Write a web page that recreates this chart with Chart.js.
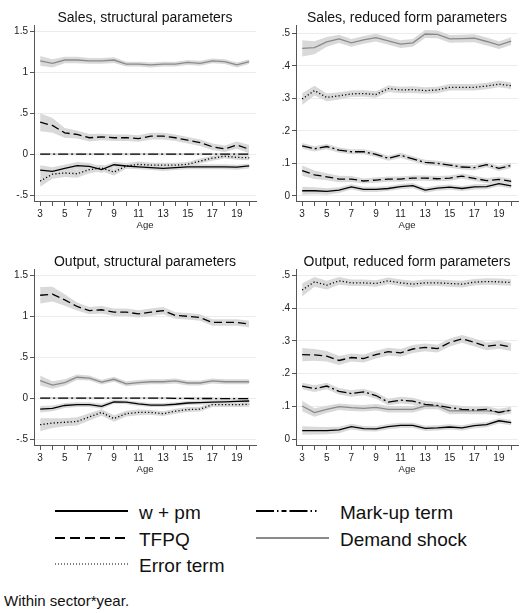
<!DOCTYPE html>
<html lang="en">

<head>
    <meta charset="UTF-8">
    <title>Decomposition by age</title>
    <style>
        body {
            margin: 0;
            background: #fff;
            font-family: "Liberation Sans", Arial, sans-serif;
            color: #111;
        }

        .page {
            position: relative;
            width: 523px;
            height: 613px;
            overflow: hidden;
        }

        .panel {
            position: absolute;
        }

        .key {
            position: absolute;
        }

        .key-text {
            position: absolute;
            font-size: 19px;
            line-height: 20px;
            white-space: nowrap;
        }

        .note {
            position: absolute;
            left: 4px;
            top: 592px;
            font-size: 15px;
            line-height: 18px;
        }
    </style>
</head>

<body>
    <div class="page">
        <canvas class="panel" id="salesStruct" width="261" height="235" style="left:0;top:0"></canvas>
        <canvas class="panel" id="salesReduced" width="261" height="235" style="left:262px;top:0"></canvas>
        <canvas class="panel" id="outputStruct" width="261" height="235" style="left:0;top:244px"></canvas>
        <canvas class="panel" id="outputReduced" width="261" height="235" style="left:262px;top:244px"></canvas>

        <!-- legend -->
        <svg class="key" width="73" height="6" style="left:55px;top:508px">
            <line x1="0" y1="3" x2="73" y2="3" stroke="#000" stroke-width="2" />
        </svg>
        <div class="key-text" style="left:139px;top:503px">w + pm</div>
        <svg class="key" width="73" height="6" style="left:55px;top:535px">
            <line x1="0" y1="3" x2="73" y2="3" stroke="#000" stroke-width="2" stroke-dasharray="10 5" />
        </svg>
        <div class="key-text" style="left:139px;top:530px">TFPQ</div>
        <svg class="key" width="73" height="6" style="left:55px;top:561px">
            <line x1="0" y1="3" x2="73" y2="3" stroke="#000" stroke-width="1.2" stroke-dasharray="1 2" />
        </svg>
        <div class="key-text" style="left:139px;top:556px">Error term</div>
        <svg class="key" width="73" height="6" style="left:256px;top:508px">
            <line x1="0" y1="3" x2="73" y2="3" stroke="#000" stroke-width="2" stroke-dasharray="18 3 1.5 3 5 3 18 3 1.5 3 1.5 20" />
        </svg>
        <div class="key-text" style="left:340px;top:503px">Mark-up term</div>
        <svg class="key" width="73" height="6" style="left:256px;top:535px">
            <line x1="0" y1="3" x2="73" y2="3" stroke="#8a8a8a" stroke-width="2" />
        </svg>
        <div class="key-text" style="left:340px;top:530px">Demand shock</div>

        <div class="note">Within sector*year.</div>
    </div>

    <script src="https://cdn.jsdelivr.net/npm/chart.js"></script>
    <script>
        // ages on the x axis, odd ones get a label
        const ages = [3, 4, 5, 6, 7, 8, 9, 10, 11, 12, 13, 14, 15, 16, 17, 18, 19, 20];
        const xLabelAges = [3, 5, 7, 9, 11, 13, 15, 17, 19];

        const structTicks = [-0.5, 0, 0.5, 1, 1.5];
        const structTickLabels = ['-.5', '0', '.5', '1', '1.5'];
        const reducedTicks = [0, 0.1, 0.2, 0.3, 0.4, 0.5];
        const reducedTickLabels = ['0', '.1', '.2', '.3', '.4', '.5'];

        // Sales, structural parameters (estimate + half width of the band)
        const salesStructWpm = [-0.195, -0.21, -0.175, -0.14, -0.15, -0.19, -0.13, -0.145, -0.155, -0.165, -0.175, -0.165, -0.155, -0.155, -0.155, -0.155, -0.16, -0.145];
        const salesStructWpmCi = [0.06, 0.05, 0.045, 0.045, 0.04, 0.04, 0.035, 0.035, 0.03, 0.03, 0.03, 0.03, 0.03, 0.03, 0.03, 0.03, 0.03, 0.03];
        const salesStructTfpq = [0.39, 0.35, 0.26, 0.24, 0.20, 0.21, 0.20, 0.20, 0.19, 0.22, 0.22, 0.20, 0.17, 0.14, 0.09, 0.065, 0.11, 0.06];
        const salesStructTfpqCi = [0.11, 0.09, 0.06, 0.05, 0.045, 0.04, 0.04, 0.04, 0.04, 0.04, 0.04, 0.04, 0.04, 0.04, 0.04, 0.04, 0.045, 0.05];
        const salesStructError = [-0.33, -0.245, -0.23, -0.24, -0.19, -0.17, -0.22, -0.145, -0.125, -0.135, -0.135, -0.135, -0.125, -0.085, -0.05, -0.025, -0.04, -0.045];
        const salesStructErrorCi = [0.07, 0.055, 0.05, 0.05, 0.045, 0.04, 0.04, 0.035, 0.035, 0.03, 0.03, 0.03, 0.03, 0.03, 0.03, 0.03, 0.03, 0.03];
        const salesStructMarkup = [0, 0, 0, 0, 0, 0, 0, 0, 0, 0, 0, 0, 0, 0, 0, 0, 0, 0];
        const salesStructMarkupCi = [0.015, 0.015, 0.015, 0.015, 0.015, 0.015, 0.015, 0.015, 0.015, 0.015, 0.015, 0.015, 0.015, 0.015, 0.015, 0.015, 0.015, 0.015];
        const salesStructDemand = [1.14, 1.11, 1.15, 1.15, 1.14, 1.14, 1.15, 1.10, 1.10, 1.09, 1.10, 1.10, 1.12, 1.11, 1.14, 1.13, 1.09, 1.13];
        const salesStructDemandCi = [0.06, 0.05, 0.04, 0.04, 0.035, 0.035, 0.035, 0.03, 0.03, 0.03, 0.03, 0.03, 0.03, 0.03, 0.03, 0.03, 0.03, 0.03];

        // Sales, reduced form parameters
        const salesReducedWpm = [0.016, 0.016, 0.014, 0.018, 0.028, 0.02, 0.02, 0.023, 0.029, 0.032, 0.018, 0.024, 0.027, 0.023, 0.028, 0.029, 0.038, 0.031];
        const salesReducedWpmCi = [0.012, 0.011, 0.01, 0.009, 0.008, 0.008, 0.008, 0.008, 0.008, 0.008, 0.008, 0.008, 0.008, 0.008, 0.008, 0.008, 0.008, 0.008];
        const salesReducedTfpq = [0.078, 0.065, 0.059, 0.052, 0.052, 0.046, 0.049, 0.052, 0.052, 0.055, 0.055, 0.053, 0.055, 0.061, 0.054, 0.047, 0.051, 0.045];
        const salesReducedTfpqCi = [0.016, 0.013, 0.011, 0.01, 0.009, 0.008, 0.008, 0.008, 0.008, 0.008, 0.008, 0.008, 0.008, 0.008, 0.008, 0.008, 0.008, 0.008];
        const salesReducedError = [0.298, 0.324, 0.303, 0.308, 0.314, 0.315, 0.312, 0.33, 0.326, 0.327, 0.324, 0.326, 0.334, 0.334, 0.334, 0.338, 0.344, 0.339];
        const salesReducedErrorCi = [0.018, 0.015, 0.012, 0.011, 0.01, 0.01, 0.01, 0.01, 0.01, 0.01, 0.01, 0.01, 0.01, 0.01, 0.01, 0.01, 0.01, 0.01];
        const salesReducedMarkup = [0.154, 0.145, 0.152, 0.141, 0.136, 0.136, 0.128, 0.116, 0.125, 0.114, 0.103, 0.10, 0.095, 0.089, 0.087, 0.096, 0.085, 0.094];
        const salesReducedMarkupCi = [0.009, 0.008, 0.008, 0.008, 0.008, 0.008, 0.008, 0.008, 0.008, 0.008, 0.008, 0.008, 0.008, 0.008, 0.008, 0.008, 0.008, 0.008];
        const salesReducedDemand = [0.454, 0.456, 0.474, 0.483, 0.471, 0.48, 0.487, 0.477, 0.467, 0.471, 0.498, 0.497, 0.483, 0.484, 0.485, 0.475, 0.464, 0.476];
        const salesReducedDemandCi = [0.025, 0.02, 0.015, 0.013, 0.012, 0.012, 0.012, 0.012, 0.012, 0.012, 0.012, 0.012, 0.012, 0.012, 0.012, 0.012, 0.012, 0.012];

        // Output, structural parameters
        const outputStructWpm = [-0.135, -0.125, -0.09, -0.08, -0.08, -0.10, -0.045, -0.05, -0.07, -0.085, -0.085, -0.075, -0.06, -0.055, -0.05, -0.045, -0.04, -0.035];
        const outputStructWpmCi = [0.04, 0.035, 0.03, 0.03, 0.03, 0.03, 0.025, 0.025, 0.025, 0.025, 0.025, 0.025, 0.025, 0.025, 0.025, 0.025, 0.025, 0.025];
        const outputStructTfpq = [1.257, 1.27, 1.20, 1.12, 1.07, 1.08, 1.05, 1.05, 1.03, 1.05, 1.07, 1.01, 1.00, 0.985, 0.925, 0.925, 0.925, 0.905];
        const outputStructTfpqCi = [0.1, 0.09, 0.07, 0.05, 0.045, 0.045, 0.045, 0.045, 0.045, 0.045, 0.045, 0.04, 0.04, 0.04, 0.04, 0.04, 0.04, 0.04];
        const outputStructError = [-0.325, -0.305, -0.295, -0.285, -0.23, -0.175, -0.25, -0.19, -0.175, -0.175, -0.19, -0.16, -0.14, -0.135, -0.08, -0.08, -0.08, -0.075];
        const outputStructErrorCi = [0.08, 0.06, 0.05, 0.05, 0.045, 0.04, 0.04, 0.035, 0.035, 0.03, 0.03, 0.03, 0.03, 0.03, 0.03, 0.03, 0.03, 0.03];
        const outputStructMarkup = [0, 0, 0, 0, 0, 0, 0, 0, 0, 0, 0, -0.003, -0.004, -0.005, -0.005, -0.006, -0.006, -0.006];
        const outputStructMarkupCi = [0.015, 0.015, 0.015, 0.015, 0.015, 0.015, 0.015, 0.015, 0.015, 0.015, 0.015, 0.015, 0.015, 0.015, 0.015, 0.015, 0.015, 0.015];
        const outputStructDemand = [0.215, 0.16, 0.19, 0.255, 0.245, 0.195, 0.23, 0.175, 0.19, 0.20, 0.20, 0.21, 0.185, 0.185, 0.21, 0.20, 0.20, 0.20];
        const outputStructDemandCi = [0.06, 0.045, 0.04, 0.035, 0.03, 0.03, 0.03, 0.03, 0.03, 0.03, 0.03, 0.03, 0.03, 0.03, 0.03, 0.03, 0.03, 0.03];

        // Output, reduced form parameters
        const outputReducedWpm = [0.026, 0.026, 0.026, 0.028, 0.038, 0.032, 0.031, 0.038, 0.042, 0.042, 0.033, 0.034, 0.037, 0.034, 0.041, 0.044, 0.056, 0.05];
        const outputReducedWpmCi = [0.013, 0.012, 0.011, 0.01, 0.009, 0.008, 0.008, 0.008, 0.008, 0.008, 0.008, 0.008, 0.008, 0.008, 0.008, 0.008, 0.008, 0.008];
        const outputReducedTfpq = [0.258, 0.257, 0.253, 0.24, 0.249, 0.246, 0.258, 0.267, 0.263, 0.275, 0.28, 0.276, 0.295, 0.306, 0.295, 0.283, 0.288, 0.281];
        const outputReducedTfpqCi = [0.02, 0.018, 0.016, 0.014, 0.012, 0.012, 0.012, 0.012, 0.012, 0.012, 0.012, 0.012, 0.012, 0.012, 0.012, 0.012, 0.012, 0.012];
        const outputReducedError = [0.455, 0.48, 0.47, 0.483, 0.477, 0.477, 0.475, 0.483, 0.477, 0.473, 0.477, 0.477, 0.475, 0.473, 0.479, 0.481, 0.48, 0.478];
        const outputReducedErrorCi = [0.02, 0.015, 0.013, 0.012, 0.01, 0.01, 0.01, 0.01, 0.01, 0.01, 0.01, 0.01, 0.01, 0.01, 0.01, 0.01, 0.01, 0.01];
        const outputReducedMarkup = [0.162, 0.154, 0.162, 0.146, 0.139, 0.144, 0.133, 0.113, 0.119, 0.116, 0.106, 0.103, 0.096, 0.091, 0.089, 0.091, 0.081, 0.089];
        const outputReducedMarkupCi = [0.01, 0.01, 0.01, 0.01, 0.01, 0.01, 0.01, 0.01, 0.01, 0.01, 0.01, 0.01, 0.01, 0.01, 0.01, 0.01, 0.01, 0.01];
        const outputReducedDemand = [0.101, 0.081, 0.091, 0.099, 0.096, 0.094, 0.097, 0.091, 0.091, 0.091, 0.101, 0.101, 0.086, 0.087, 0.086, 0.086, 0.083, 0.088];
        const outputReducedDemandCi = [0.016, 0.013, 0.011, 0.01, 0.01, 0.01, 0.01, 0.01, 0.01, 0.01, 0.01, 0.01, 0.01, 0.01, 0.01, 0.01, 0.01, 0.01];

        // one look per term, same order as the arrays passed to makePanel
        const lineStyles = [
            { color: '#000', dash: [], width: 1.3 },          // w + pm
            { color: '#000', dash: [8, 4], width: 1.3 },      // TFPQ
            { color: '#000', dash: [1.2, 2.2], width: 1.3 },  // Error term
            { color: '#000', dash: [10, 3, 2, 3], width: 1.3 }, // Mark-up term
            { color: '#8a8a8a', dash: [], width: 1.3 }        // Demand shock
        ];
        const bandColor = '#d9d9d9';
        const font = '"Liberation Sans", Arial, sans-serif';

        function points(values) {
            return ages.map((a, i) => ({ x: a, y: values[i] }));
        }

        function makePanel(id, title, estimates, halfWidths, yMin, yMax, yTicks, yTickLabels) {
            const datasets = [];

            // grey bands first, under every line
            estimates.forEach((est, k) => {
                const ci = halfWidths[k];
                datasets.push({
                    data: points(est.map((v, i) => v - ci[i])),
                    borderWidth: 0, pointRadius: 0, fill: false, order: 1
                });
                datasets.push({
                    data: points(est.map((v, i) => v + ci[i])),
                    borderWidth: 0, pointRadius: 0, fill: '-1',
                    backgroundColor: bandColor, order: 1
                });
            });

            estimates.forEach((est, k) => {
                const st = lineStyles[k];
                datasets.push({
                    data: points(est),
                    borderColor: st.color,
                    borderWidth: st.width,
                    borderDash: st.dash,
                    pointRadius: 0,
                    fill: false,
                    tension: 0,
                    order: 0
                });
            });

            new Chart(document.getElementById(id), {
                type: 'line',
                data: { datasets: datasets },
                options: {
                    responsive: false,
                    animation: false,
                    events: [],
                    layout: { padding: { left: 0, right: 5, top: 0, bottom: 0 } },
                    plugins: {
                        legend: { display: false },
                        tooltip: { enabled: false },
                        title: {
                            display: true,
                            text: title,
                            fullSize: false,
                            color: '#111',
                            font: { family: font, size: 14, weight: 'normal', lineHeight: 1.1 },
                            padding: { top: 10, bottom: 0 }
                        }
                    },
                    scales: {
                        x: {
                            type: 'linear',
                            min: 2.5,
                            max: 20.55,
                            afterBuildTicks: axis => { axis.ticks = ages.map(a => ({ value: a })); },
                            afterFit: axis => { axis.height = 34; },
                            border: { display: true, color: '#555', width: 1 },
                            grid: { drawOnChartArea: false, drawTicks: true, tickLength: 5, tickColor: '#555' },
                            ticks: {
                                autoSkip: false,
                                maxRotation: 0,
                                padding: 2,
                                color: '#222',
                                font: { family: font, size: 10 },
                                callback: v => xLabelAges.includes(v) ? String(v) : ''
                            },
                            title: {
                                display: true,
                                text: 'Age',
                                color: '#222',
                                font: { family: font, size: 9.5 },
                                padding: { top: 0, bottom: 4 }
                            }
                        },
                        y: {
                            min: yMin,
                            max: yMax,
                            afterBuildTicks: axis => { axis.ticks = yTicks.map(v => ({ value: v })); },
                            afterFit: axis => { axis.width = 34; },
                            border: { display: true, color: '#555', width: 1 },
                            grid: { color: '#ececec', lineWidth: 1, drawTicks: true, tickLength: 4, tickColor: '#555' },
                            ticks: {
                                padding: 2,
                                color: '#222',
                                font: { family: font, size: 10 },
                                callback: (v, i) => yTickLabels[i]
                            }
                        }
                    }
                }
            });
        }

        makePanel('salesStruct', 'Sales, structural parameters',
            [salesStructWpm, salesStructTfpq, salesStructError, salesStructMarkup, salesStructDemand],
            [salesStructWpmCi, salesStructTfpqCi, salesStructErrorCi, salesStructMarkupCi, salesStructDemandCi],
            -0.573, 1.573, structTicks, structTickLabels);

        makePanel('salesReduced', 'Sales, reduced form parameters',
            [salesReducedWpm, salesReducedTfpq, salesReducedError, salesReducedMarkup, salesReducedDemand],
            [salesReducedWpmCi, salesReducedTfpqCi, salesReducedErrorCi, salesReducedMarkupCi, salesReducedDemandCi],
            -0.0155, 0.5245, reducedTicks, reducedTickLabels);

        makePanel('outputStruct', 'Output, structural parameters',
            [outputStructWpm, outputStructTfpq, outputStructError, outputStructMarkup, outputStructDemand],
            [outputStructWpmCi, outputStructTfpqCi, outputStructErrorCi, outputStructMarkupCi, outputStructDemandCi],
            -0.573, 1.573, structTicks, structTickLabels);

        makePanel('outputReduced', 'Output, reduced form parameters',
            [outputReducedWpm, outputReducedTfpq, outputReducedError, outputReducedMarkup, outputReducedDemand],
            [outputReducedWpmCi, outputReducedTfpqCi, outputReducedErrorCi, outputReducedMarkupCi, outputReducedDemandCi],
            -0.018, 0.518, reducedTicks, reducedTickLabels);
    </script>
</body>

</html>
